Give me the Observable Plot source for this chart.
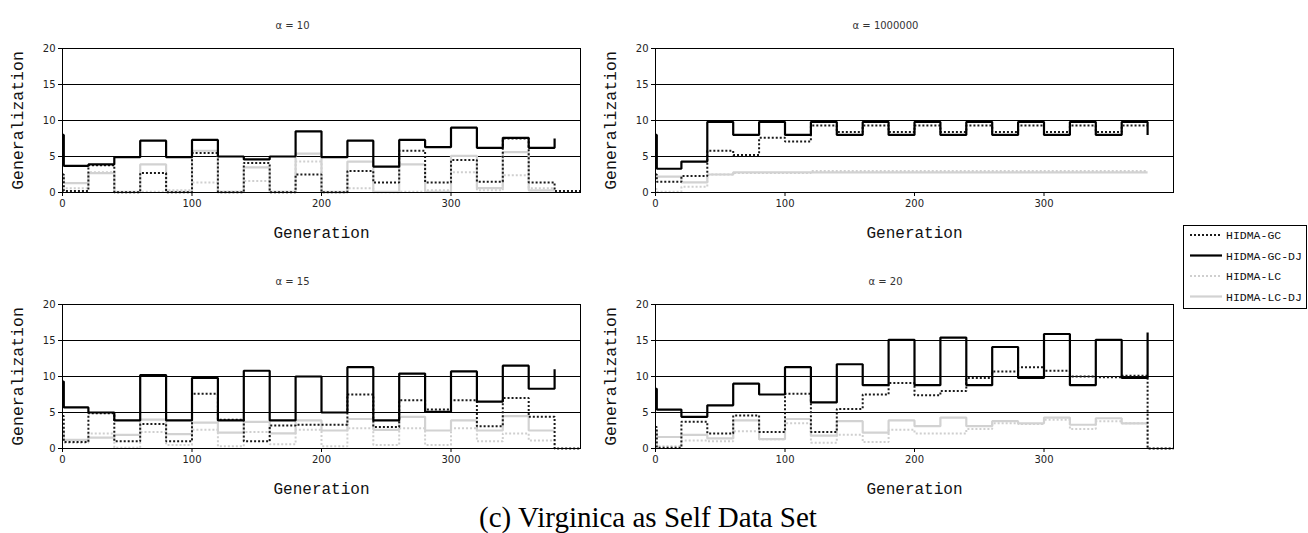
<!DOCTYPE html>
<html>
<head>
<meta charset="utf-8">
<script src="https://cdn.jsdelivr.net/npm/d3@7"></script>
<script src="https://cdn.jsdelivr.net/npm/@observablehq/plot@0.6"></script>
<style>
  html, body { margin: 0; padding: 0; background: #fff; }
  #root { position: relative; width: 1308px; height: 533px; overflow: hidden; background: #fff; }
  .panel { position: absolute; }
  #overlay { position: absolute; left: 0; top: 0; }
</style>
</head>
<body>
<div id="root"></div>
<script>
// ---- data ----
const generations = [0, 1, 20, 40, 60, 80, 100, 120, 140, 160, 180, 200, 220, 240, 260, 280, 300, 320, 340, 360, 380, 400];
const seriesNames = ["HIDMA-GC", "HIDMA-GC-DJ", "HIDMA-LC", "HIDMA-LC-DJ"];
const panelTitles = ["\u03b1 = 10", "\u03b1 = 1000000", "\u03b1 = 15", "\u03b1 = 20"];
const xTicks = [0, 100, 200, 300];
const yTicks = [0, 5, 10, 15, 20];
const yGrid = [5, 10, 15];
const xLabel = "Generation";
const yLabel = "Generalization";
const caption = "(c) Virginica as Self Data Set";

// alpha = 10
const gc_a10   = [2.5, 0.2, 3.8, 0.05, 2.7, 0.05, 5.5, 0.05, 4.1, 0.05, 2.5, 0.05, 3.0, 1.4, 5.8, 1.4, 4.5, 1.5, 7.5, 1.4, 0.2, 0.2];
const gcdj_a10 = [8.0, 3.7, 3.9, 4.9, 7.2, 4.9, 7.3, 5.0, 4.6, 5.0, 8.5, 4.9, 7.2, 3.6, 7.3, 6.3, 9.0, 6.2, 7.6, 6.2, 7.5, null];
const lc_a10   = [0.5, 0.6, 2.8, 0.05, 0.1, 0.3, 1.4, 0.1, 1.6, 0.1, 4.3, 0.05, 0.6, 0.05, 0.1, 0.3, 2.8, 0.3, 2.4, 0.6, 0.6, null];
const lcdj_a10 = [2.5, 1.3, 2.7, 0.1, 3.9, 0.1, 5.8, 0.1, 3.5, 0.1, 5.4, 0.1, 4.3, 0.1, 3.9, 0.1, 5.1, 0.6, 5.6, 0.3, 0.3, null];

// alpha = 1000000
const gc_a1e6   = [2.5, 1.5, 2.3, 5.8, 5.2, 7.6, 7.1, 9.3, 8.4, 9.3, 8.4, 9.3, 8.4, 9.3, 8.4, 9.3, 8.4, 9.3, 8.4, 9.3, 9.3, null];
const gcdj_a1e6 = [8.0, 3.3, 4.3, 9.8, 8.0, 9.8, 8.0, 9.8, 8.0, 9.8, 8.0, 9.8, 8.0, 9.8, 8.0, 9.8, 8.0, 9.8, 8.0, 9.8, 8.0, null];
const lc_a1e6   = [0.5, 0.1, 0.8, 2.5, 2.7, 2.7, 2.7, 3.0, 3.0, 3.0, 3.0, 3.0, 3.0, 3.0, 3.0, 3.0, 3.0, 3.0, 3.0, 3.0, 3.0, null];
const lcdj_a1e6 = [2.5, 2.2, 1.4, 2.5, 2.8, 2.8, 2.8, 2.8, 2.8, 2.8, 2.8, 2.8, 2.8, 2.8, 2.8, 2.8, 2.8, 2.8, 2.8, 2.8, 2.8, null];

// alpha = 15
const gc_a15   = [4.5, 0.9, 4.9, 1.0, 3.4, 1.0, 7.6, 4.0, 1.0, 3.2, 3.3, 3.3, 7.5, 3.0, 6.7, 5.4, 6.7, 3.1, 7.0, 4.4, 0, 0];
const gcdj_a15 = [9.3, 5.7, 5.0, 3.9, 10.2, 3.9, 9.8, 3.9, 10.8, 3.9, 10.0, 5.0, 11.3, 3.9, 10.4, 5.1, 10.7, 6.5, 11.5, 8.3, 11.0, null];
const lc_a15   = [2.8, 0.8, 2.1, 0.1, 2.3, 0.5, 2.6, 0.3, 2.3, 0.6, 2.6, 0.3, 2.8, 0.5, 2.8, 0.5, 2.8, 1.0, 2.1, 1.1, 0, null];
const lcdj_a15 = [2.5, 1.2, 1.5, 1.9, 4.0, 2.0, 3.6, 2.2, 3.7, 2.1, 3.9, 2.5, 4.1, 2.6, 4.4, 2.5, 3.9, 2.5, 4.5, 2.5, 2.5, null];

// alpha = 20
const gc_a20   = [3.0, 0.1, 3.7, 2.1, 4.6, 2.3, 7.6, 2.3, 5.5, 7.5, 9.1, 7.4, 8.0, 9.8, 10.7, 11.3, 10.8, 10.0, 9.9, 10.1, 0, 0];
const gcdj_a20 = [8.3, 5.4, 4.4, 6.0, 9.0, 7.5, 11.3, 6.4, 11.7, 8.8, 15.1, 8.8, 15.4, 8.8, 14.1, 9.8, 15.9, 8.8, 15.1, 9.8, 16.1, null];
const lc_a20   = [1.0, 0.3, 1.1, 1.0, 2.4, 1.3, 3.5, 0.8, 1.9, 0.9, 2.6, 2.1, 2.1, 2.7, 3.5, 3.4, 4.0, 2.7, 3.8, 3.5, 0, 0];
const lcdj_a20 = [2.5, 1.6, 1.9, 1.4, 3.9, 1.3, 4.1, 1.8, 3.8, 2.2, 3.9, 3.1, 4.3, 3.1, 3.8, 3.5, 4.3, 3.3, 4.2, 3.5, 3.5, null];

const panelSeries = [
  [gc_a10, gcdj_a10, lc_a10, lcdj_a10],
  [gc_a1e6, gcdj_a1e6, lc_a1e6, lcdj_a1e6],
  [gc_a15, gcdj_a15, lc_a15, lcdj_a15],
  [gc_a20, gcdj_a20, lc_a20, lcdj_a20]
];

// ---- styles ----
const seriesStyle = {
  "HIDMA-GC":    {stroke: "#1a1a1a", strokeWidth: 2, strokeDasharray: "2,2"},
  "HIDMA-GC-DJ": {stroke: "#000000", strokeWidth: 2.2, strokeDasharray: null},
  "HIDMA-LC":    {stroke: "#cfcfcf", strokeWidth: 2, strokeDasharray: "2,2"},
  "HIDMA-LC-DJ": {stroke: "#d2d2d2", strokeWidth: 2.2, strokeDasharray: null}
};
const drawOrder = ["HIDMA-LC", "HIDMA-LC-DJ", "HIDMA-GC", "HIDMA-GC-DJ"];
const panelPos = [[0, 0], [593, 0], [0, 256], [593, 256]];

const root = document.getElementById("root");

panelSeries.forEach((arrs, p) => {
  const rows = [];
  arrs.forEach((vals, s) => {
    vals.forEach((v, i) => rows.push({series: seriesNames[s], gen: generations[i], value: v}));
  });
  const lineMarks = drawOrder.map(name => {
    const st = seriesStyle[name];
    const opts = {
      x: "gen", y: "value", curve: "step-after",
      stroke: st.stroke, strokeWidth: st.strokeWidth, strokeLinejoin: "miter", strokeLinecap: "butt"
    };
    if (st.strokeDasharray) opts.strokeDasharray = st.strokeDasharray;
    return Plot.line(rows.filter(d => d.series === name), opts);
  });
  const chart = Plot.plot({
    width: 600,
    height: 250,
    marginLeft: 62,
    marginRight: 20,
    marginTop: 48,
    marginBottom: 58,
    style: {fontFamily: "'DejaVu Sans', sans-serif", fontSize: "10px", color: "#222", background: "transparent", overflow: "visible"},
    x: {domain: [0, 400]},
    y: {domain: [0, 20]},
    marks: [
      Plot.ruleY(yGrid, {stroke: "#000", strokeWidth: 1}),
      ...lineMarks,
      Plot.frame({stroke: "#000", strokeWidth: 1}),
      Plot.axisX({ticks: xTicks, tickSize: 4, tickPadding: 3, label: null, stroke: "#000"}),
      Plot.axisY({ticks: yTicks, tickSize: 4, tickPadding: 3, label: null, stroke: "#000"}),
      Plot.text([yLabel], {text: d => d, frameAnchor: "left", textAnchor: "middle", dx: -45, rotate: -90, fontFamily: "'Liberation Mono', monospace", fontSize: 16.5, fill: "#111"}),
      Plot.text([xLabel], {text: d => d, frameAnchor: "bottom", dy: 45, fontFamily: "'Liberation Mono', monospace", fontSize: 16, fill: "#111"}),
      Plot.text([panelTitles[p]], {text: d => d, frameAnchor: "top", dy: -27, dx: -29, fontFamily: "'DejaVu Sans', sans-serif", fontSize: 10, fill: "#333"})
    ]
  });
  chart.classList.add("panel");
  chart.style.left = panelPos[p][0] + "px";
  chart.style.top = panelPos[p][1] + "px";
  root.appendChild(chart);
});

// ---- legend + caption overlay ----
const svg = d3.select(root).append("svg")
  .attr("id", "overlay").attr("width", 1308).attr("height", 533);
const lg = svg.append("g").attr("transform", "translate(1183,225)");
lg.append("rect").attr("x", 0.5).attr("y", 0.5).attr("width", 123).attr("height", 83)
  .attr("fill", "#fff").attr("stroke", "#000").attr("stroke-width", 1);
seriesNames.forEach((name, i) => {
  const st = seriesStyle[name];
  const yy = 10 + i * 20.5;
  lg.append("line").attr("x1", 7).attr("x2", 39).attr("y1", yy).attr("y2", yy)
    .attr("stroke", st.stroke).attr("stroke-width", st.strokeWidth)
    .attr("stroke-dasharray", st.strokeDasharray);
  lg.append("text").attr("x", 43).attr("y", yy).attr("dy", "0.35em")
    .attr("font-family", "'Liberation Mono', monospace").attr("font-size", 11.5)
    .attr("fill", "#111").text(name);
});
svg.append("text").attr("x", 648).attr("y", 527).attr("text-anchor", "middle")
  .attr("font-family", "'Liberation Serif', 'Times New Roman', serif").attr("font-size", 29)
  .attr("fill", "#000").text(caption);
</script>
</body>
</html>
